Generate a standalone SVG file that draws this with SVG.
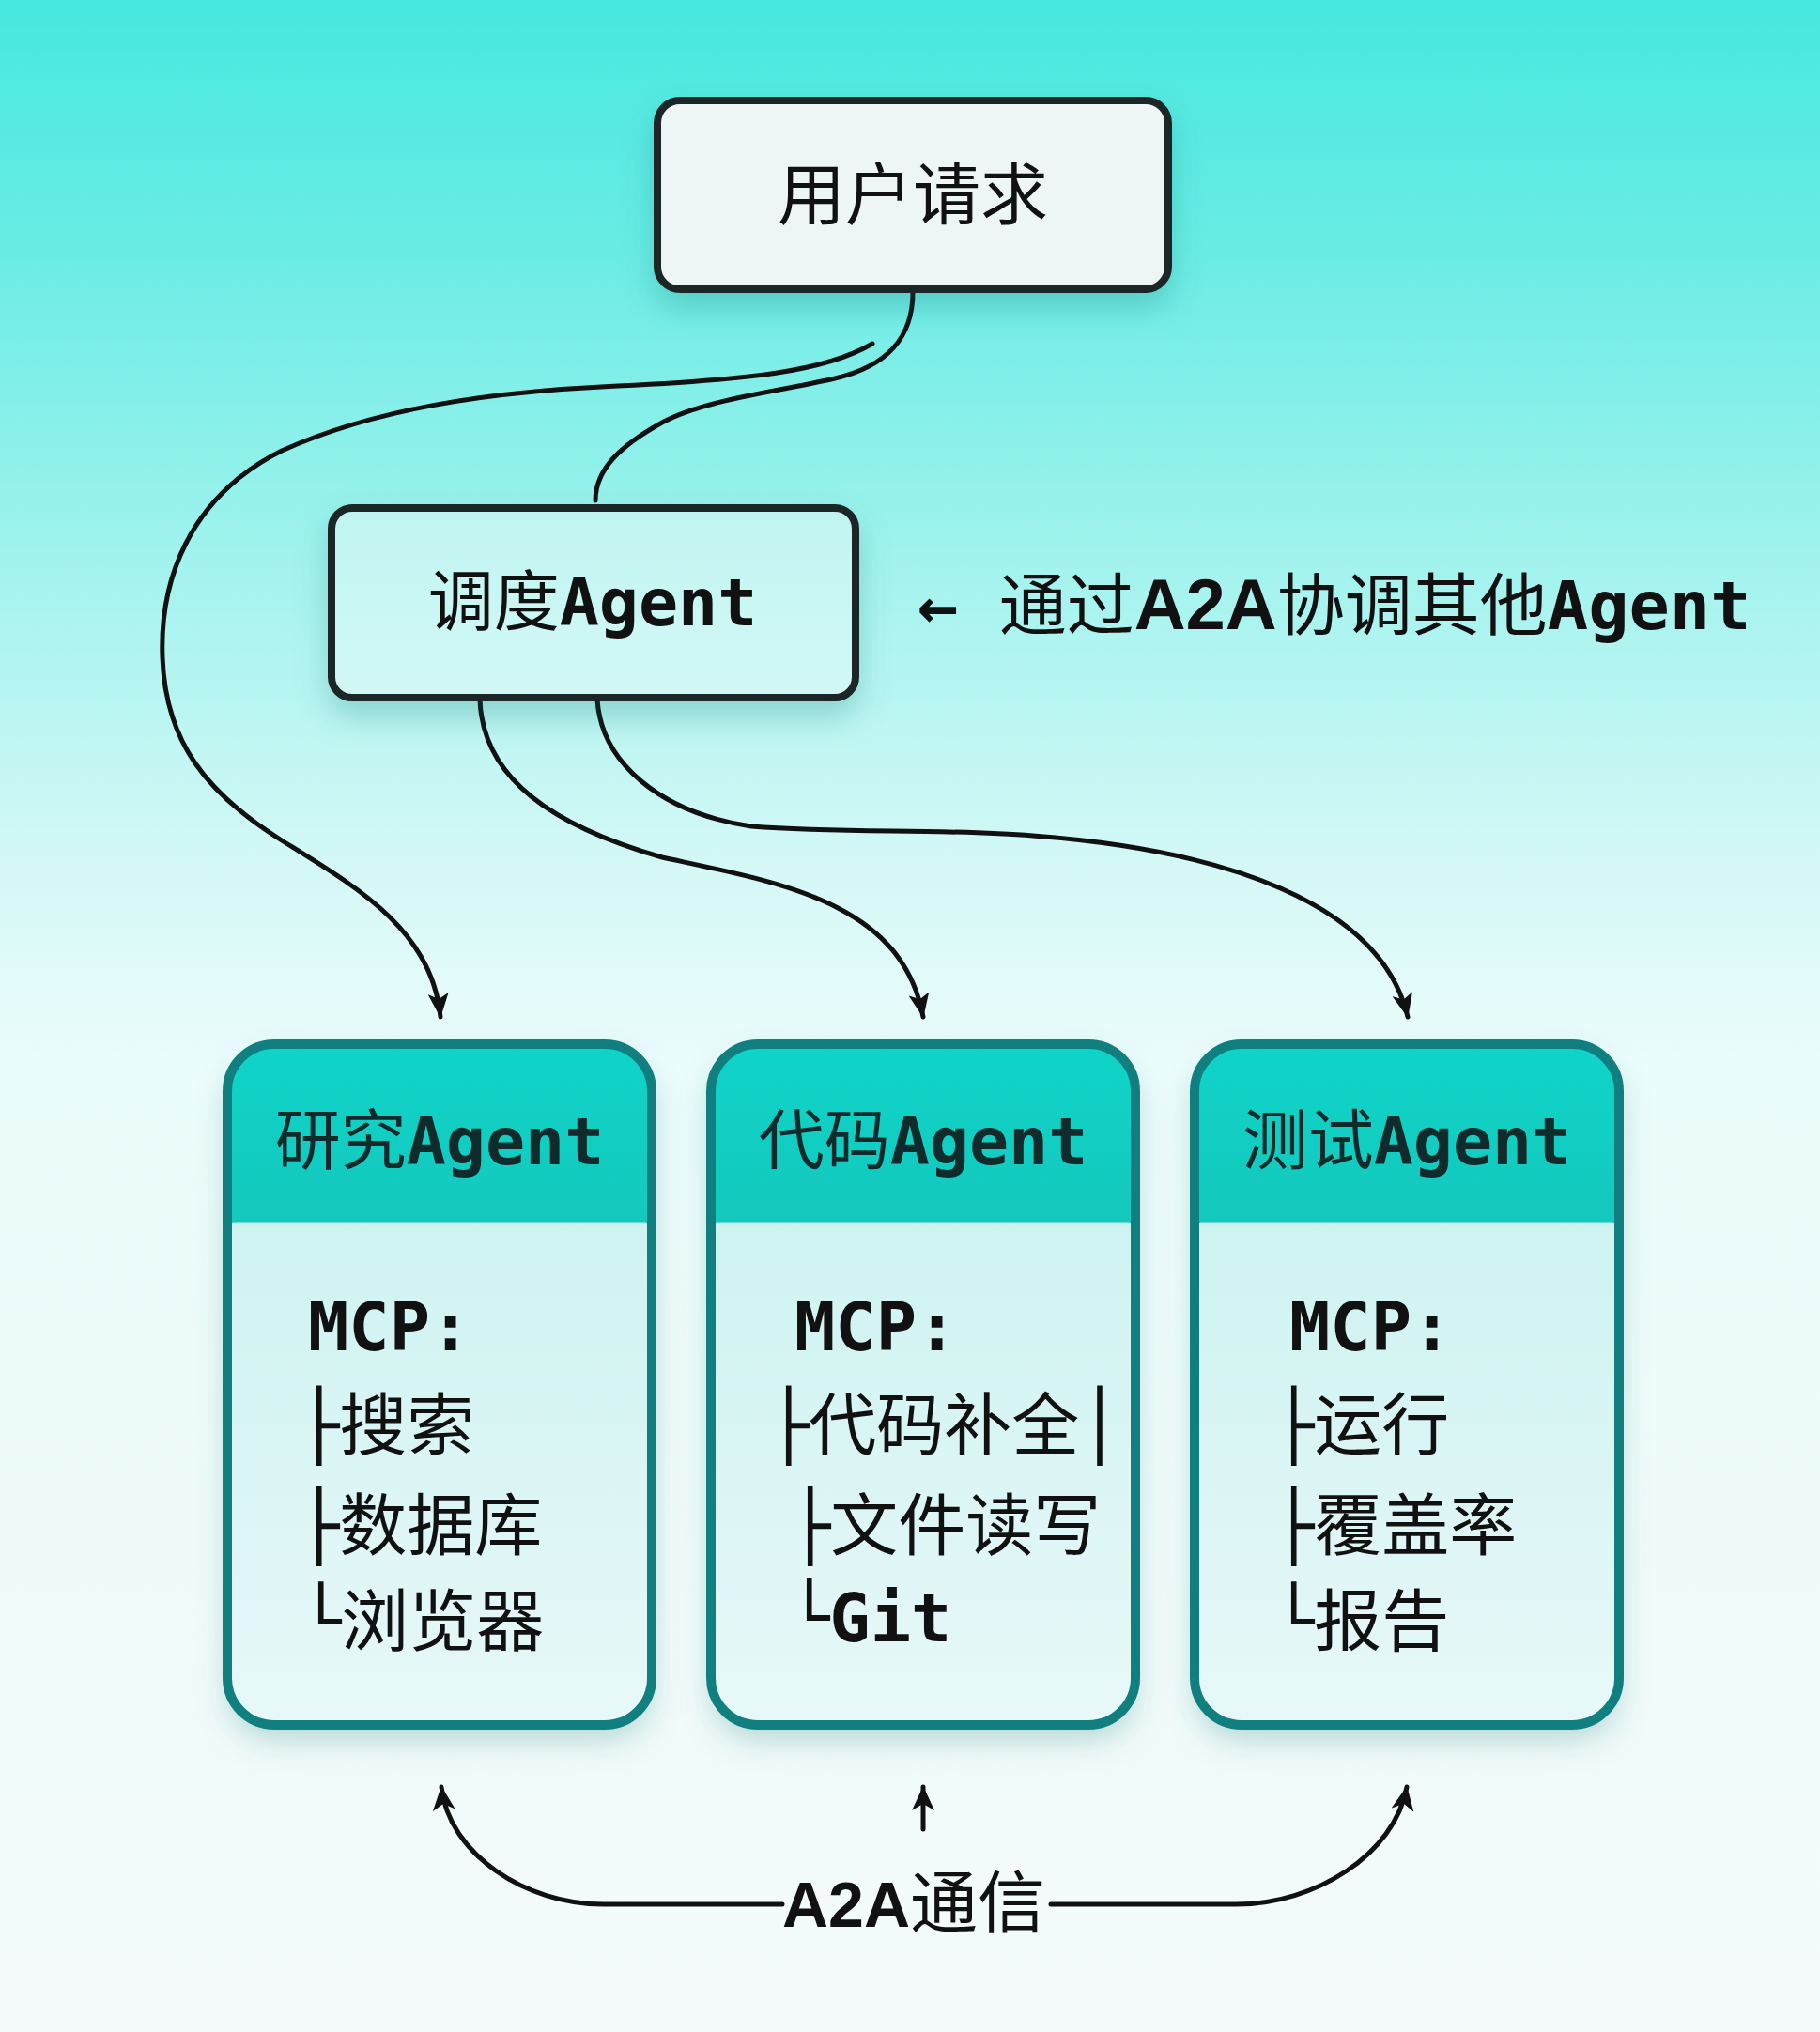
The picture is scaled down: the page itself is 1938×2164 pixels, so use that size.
<svg xmlns="http://www.w3.org/2000/svg" width="1938" height="2164" viewBox="0 0 1938 2164">
<defs>
  <linearGradient id="bg" x1="0" y1="0" x2="0" y2="1">
    <stop offset="0" stop-color="#46e8df"/>
    <stop offset="0.12" stop-color="#68ece4"/>
    <stop offset="0.28" stop-color="#a3f3ee"/>
    <stop offset="0.42" stop-color="#d2f8f6"/>
    <stop offset="0.52" stop-color="#eafcfb"/>
    <stop offset="1" stop-color="#f4fafa"/>
  </linearGradient>
  <linearGradient id="hdr" x1="0" y1="0" x2="0" y2="1">
    <stop offset="0" stop-color="#0fd4c8"/>
    <stop offset="1" stop-color="#14c8bd"/>
  </linearGradient>
  <linearGradient id="body" x1="0" y1="0" x2="0" y2="1">
    <stop offset="0.25" stop-color="#cdf3f1"/>
    <stop offset="1" stop-color="#e8f8f8"/>
  </linearGradient>
  <linearGradient id="mid" x1="0" y1="0" x2="0" y2="1">
    <stop offset="0" stop-color="#bff5f1"/>
    <stop offset="1" stop-color="#d3f8f6"/>
  </linearGradient>
  <filter id="sh" x="-25%" y="-25%" width="150%" height="160%">
    <feDropShadow dx="0" dy="16" stdDeviation="16" flood-color="#0b6e6a" flood-opacity="0.25"/>
  </filter>
  <clipPath id="card" clipPathUnits="userSpaceOnUse">
    <rect x="0" y="0" width="452" height="725" rx="50"/>
  </clipPath>
  <marker id="ah" viewBox="0 0 26 22" refX="25" refY="11" markerWidth="26" markerHeight="22" markerUnits="userSpaceOnUse" orient="auto">
    <path d="M0,0 L26,11 L0,22 L6,11 z" fill="#111"/>
  </marker>
  <marker id="ah2" viewBox="0 0 26 24" refX="25" refY="12" markerWidth="26" markerHeight="24" markerUnits="userSpaceOnUse" orient="auto">
    <path d="M0,0 L26,12 L0,24 L7,12 z" fill="#111"/>
  </marker>
  <style>
    .t { font-family: "DejaVu Sans Mono", "Noto Sans CJK SC", monospace; fill: #111; }
    .cjk { font-family: "Noto Sans CJK SC", sans-serif; fill: #111; }
    .a2a { font-family: "Liberation Sans", Arial, sans-serif; font-weight: bold; }
    .hdr { font-size: 70px; text-anchor: middle; fill: #0f2b2b; }
    .bd { font-size: 72px; }
    .bold { font-weight: bold; }
    .conn { fill: none; stroke: #111; stroke-width: 5; stroke-linecap: round; }
    .cardline { fill: none; stroke: #117f80; stroke-width: 10; }
  </style>
</defs>

<rect x="0" y="0" width="1938" height="2164" fill="url(#bg)"/>

<g id="connectors">
  <path class="conn" d="M972,311 C972,360 945,390 889,403 C840,415 750,425 705,450 C660,475 634,500 634,533"/>
  <path class="conn" marker-end="url(#ah)" d="M929,366 C880,395 800,405 640,412 C520,418 400,435 300,480 C200,530 170,620 173,700 C176,790 220,845 300,895 C380,945 460,990 469,1083"/>
  <path class="conn" marker-end="url(#ah)" d="M511,745 C514,830 590,880 705,913 C830,940 960,960 983,1083"/>
  <path class="conn" stroke-width="5.5" marker-end="url(#ah)" d="M636,745 C640,810 700,865 800,880 C900,888 1000,882 1100,890 C1300,905 1470,960 1499,1083"/>
  <path class="conn" stroke-width="5.5" marker-end="url(#ah2)" d="M833,2028 L642,2028 C560,2028 478,1975 470,1903"/>
  <path class="conn" stroke-width="5.5" marker-end="url(#ah2)" d="M1119,2028 L1317,2028 C1400,2028 1485,1975 1498,1903"/>
  <path class="conn" stroke-width="5" marker-end="url(#ah2)" d="M983,1948 L983,1903"/>
</g>

<g id="user-request">
  <rect x="700" y="107" width="544" height="201" rx="24" fill="#eef5f5" stroke="#1b2727" stroke-width="8" filter="url(#sh)"/>
  <text class="cjk" x="972" y="233" font-size="72" text-anchor="middle">用户请求</text>
</g>

<g id="dispatcher">
  <rect x="353" y="541" width="558" height="202" rx="22" fill="url(#mid)" stroke="#1b2727" stroke-width="8" filter="url(#sh)"/>
  <text class="t" x="631" y="666" font-size="70" text-anchor="middle">调度<tspan class="bold">Agent</tspan></text>
</g>

<g id="annotation">
  <text class="t" x="977" y="670" font-size="72"><tspan class="bold">←</tspan> 通过<tspan class="a2a" font-size="76">A2A</tspan>协调其他<tspan class="bold">Agent</tspan></text>
</g>

<g id="research-agent" transform="translate(242,1112)">
  <rect width="452" height="725" rx="50" fill="url(#body)" filter="url(#sh)"/>
  <rect width="452" height="190" fill="url(#hdr)" clip-path="url(#card)"/>
  <line x1="6" y1="191" x2="446" y2="191" stroke="#c4f0ee" stroke-width="3"/>
  <rect class="cardline" width="452" height="725" rx="50"/>
  <text class="t hdr" x="226" y="128">研究<tspan class="bold">Agent</tspan></text>
  <text class="t bd bold" x="86" y="326">MCP:</text>
  <text class="t bd" x="76" y="431">├搜索</text>
  <text class="t bd" x="76" y="538">├数据库</text>
  <text class="t bd" x="78" y="640">└浏览器</text>
</g>

<g id="code-agent" transform="translate(757,1112)">
  <rect width="452" height="725" rx="50" fill="url(#body)" filter="url(#sh)"/>
  <rect width="452" height="190" fill="url(#hdr)" clip-path="url(#card)"/>
  <line x1="6" y1="191" x2="446" y2="191" stroke="#c4f0ee" stroke-width="3"/>
  <rect class="cardline" width="452" height="725" rx="50"/>
  <text class="t hdr" x="226" y="128">代码<tspan class="bold">Agent</tspan></text>
  <text class="t bd bold" x="89" y="326">MCP:</text>
  <text class="t bd" x="61" y="431">├代码补全│</text>
  <text class="t bd" x="84" y="538">├文件读写</text>
  <text class="t bd" x="83" y="636">└<tspan class="bold">Git</tspan></text>
</g>

<g id="test-agent" transform="translate(1272,1112)">
  <rect width="452" height="725" rx="50" fill="url(#body)" filter="url(#sh)"/>
  <rect width="452" height="190" fill="url(#hdr)" clip-path="url(#card)"/>
  <line x1="6" y1="191" x2="446" y2="191" stroke="#c4f0ee" stroke-width="3"/>
  <rect class="cardline" width="452" height="725" rx="50"/>
  <text class="t hdr" x="226" y="128">测试<tspan class="bold">Agent</tspan></text>
  <text class="t bd bold" x="101" y="326">MCP:</text>
  <text class="t bd" x="84" y="431">├运行</text>
  <text class="t bd" x="84" y="538">├覆盖率</text>
  <text class="t bd" x="84" y="640">└报告</text>
</g>

<g id="a2a-label">
  <text class="cjk" x="833" y="2052" font-size="72"><tspan class="a2a" font-size="68">A2A</tspan>通信</text>
</g>
</svg>
